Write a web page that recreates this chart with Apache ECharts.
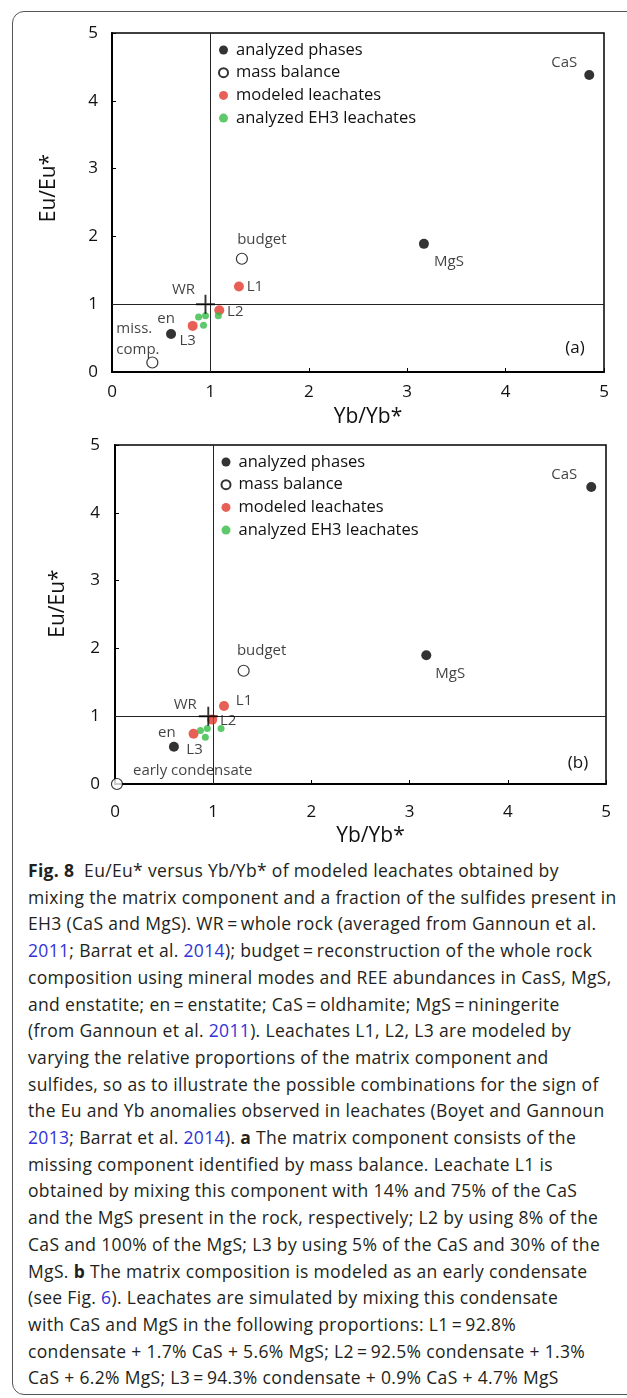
<!DOCTYPE html>
<html>
<head>
<meta charset="utf-8">
<script src="https://cdn.jsdelivr.net/npm/echarts@6/dist/echarts.min.js"></script>
<style>
  html, body { margin: 0; padding: 0; background: #fff; }
  body { width: 627px; height: 1398px; position: relative; overflow: hidden; font-family: "Open Sans", sans-serif; }
  #frame { position: absolute; left: 12px; top: 11px; width: 660px; height: 1384px; border: 1px solid #555; border-radius: 12px; box-sizing: border-box; }
  #chart { position: absolute; left: 0; top: 0; width: 627px; height: 850px; }
  #caption { position: absolute; left: 28px; top: 857px; font-size: 17.5px; letter-spacing: 0.33px; line-height: 26.7px; color: #231f20; white-space: nowrap; }
  #caption b { font-weight: 700; }
  #caption .lk { color: #3333d6; }
</style>
</head>
<body>
<div id="frame"></div>
<div id="chart"></div>
<div id="caption">
<div><b>Fig. 8</b>&nbsp; Eu/Eu* versus Yb/Yb* of modeled leachates obtained by</div>
<div>mixing the matrix component and a fraction of the sulfides present in</div>
<div>EH3 (CaS and MgS). WR&thinsp;=&thinsp;whole rock (averaged from Gannoun et al.</div>
<div><span class="lk">2011</span>; Barrat et al. <span class="lk">2014</span>); budget&thinsp;=&thinsp;reconstruction of the whole rock</div>
<div>composition using mineral modes and REE abundances in CasS, MgS,</div>
<div>and enstatite; en&thinsp;=&thinsp;enstatite; CaS&thinsp;=&thinsp;oldhamite; MgS&thinsp;=&thinsp;niningerite</div>
<div>(from Gannoun et al. <span class="lk">2011</span>). Leachates L1, L2, L3 are modeled by</div>
<div>varying the relative proportions of the matrix component and</div>
<div>sulfides, so as to illustrate the possible combinations for the sign of</div>
<div>the Eu and Yb anomalies observed in leachates (Boyet and Gannoun</div>
<div><span class="lk">2013</span>; Barrat et al. <span class="lk">2014</span>). <b>a</b> The matrix component consists of the</div>
<div>missing component identified by mass balance. Leachate L1 is</div>
<div>obtained by mixing this component with 14% and 75% of the CaS</div>
<div>and the MgS present in the rock, respectively; L2 by using 8% of the</div>
<div>CaS and 100% of the MgS; L3 by using 5% of the CaS and 30% of the</div>
<div>MgS. <b>b</b> The matrix composition is modeled as an early condensate</div>
<div>(see Fig. <span class="lk">6</span>). Leachates are simulated by mixing this condensate</div>
<div>with CaS and MgS in the following proportions: L1&thinsp;=&thinsp;92.8%</div>
<div>condensate + 1.7% CaS + 5.6% MgS; L2&thinsp;=&thinsp;92.5% condensate + 1.3%</div>
<div>CaS + 6.2% MgS; L3&thinsp;=&thinsp;94.3% condensate + 0.9% CaS + 4.7% MgS</div>
</div>
<script>
// ---------- data ----------
const axisTicks = [0, 1, 2, 3, 4, 5];
const refX = 1, refY = 1;

const phaseNames = ['CaS', 'MgS', 'en'];
const phasesA_x = [4.85, 3.17, 0.60];
const phasesA_y = [4.38, 1.89, 0.56];
const phasesB_x = [4.85, 3.17, 0.60];
const phasesB_y = [4.38, 1.90, 0.55];

const massNamesA = ['budget', 'miss.\ncomp.'];
const massA_x = [1.32, 0.41];
const massA_y = [1.67, 0.14];
const massNamesB = ['budget', 'early condensate'];
const massB_x = [1.31, 0.02];
const massB_y = [1.67, 0.0];

const leachNames = ['L1', 'L2', 'L3'];
const leachA_x = [1.29, 1.09, 0.82];
const leachA_y = [1.26, 0.91, 0.68];
const leachB_x = [1.11, 0.99, 0.80];
const leachB_y = [1.15, 0.95, 0.74];

const eh3A_x = [0.88, 0.95, 0.93, 1.08];
const eh3A_y = [0.81, 0.83, 0.69, 0.83];
const eh3B_x = [0.87, 0.94, 0.92, 1.08];
const eh3B_y = [0.79, 0.82, 0.69, 0.82];

const wrName = 'WR';
const wrA = [0.95, 1.0];
const wrB = [0.95, 1.0];

const legendNames = ['analyzed phases', 'mass balance', 'modeled leachates', 'analyzed EH3 leachates'];

// ---------- label placement (styling, kept separate from data) ----------
const labelOffA = {
  'CaS': [-25, -12], 'MgS': [25, 18], 'en': [-5, -15],
  'budget': [20, -19], 'miss.\ncomp.': [-36, -23],
  'L1': [16, 0], 'L2': [16, 1], 'L3': [-5, 15], 'WR': [-22, -14]
};
const labelOffB = {
  'CaS': [-27, -12], 'MgS': [24, 19], 'en': [-7, -14],
  'budget': [18, -20], 'early condensate': [16, -13],
  'L1': [20, -5], 'L2': [16, 1], 'L3': [1, 16], 'WR': [-23, -11]
};
const leftAligned = { 'miss.\ncomp.': true, 'early condensate': true };

const FONT = '"Open Sans", sans-serif';
const TXT = '#111';

function pts(xs, ys, names, offs) {
  return xs.map((x, i) => {
    const o = { value: [x, ys[i]] };
    if (names) {
      const n = names[i];
      o.name = n;
      o.label = {
        show: true, formatter: n, position: 'inside',
        offset: offs[n], align: leftAligned[n] ? 'left' : 'center',
        verticalAlign: 'middle', lineHeight: 21,
        fontSize: 15, fontFamily: FONT, color: TXT
      };
    }
    return o;
  });
}

const crossPath = 'path://M0,4.5H10V5.5H0Z M4.5,0H5.5V10H4.5Z';

function panelSeries(idx, P) {
  const offs = idx === 0 ? labelOffA : labelOffB;
  return [
    {
      name: 'refs', type: 'scatter', xAxisIndex: idx, yAxisIndex: idx, data: [],
      markLine: {
        silent: true, symbol: 'none', label: { show: false }, animation: false,
        lineStyle: { color: '#222', width: 1, type: 'solid' },
        data: [{ xAxis: refX }, { yAxis: refY }]
      }
    },
    {
      name: legendNames[0], type: 'scatter', xAxisIndex: idx, yAxisIndex: idx,
      symbol: 'circle', symbolSize: 10, itemStyle: { color: '#000' }, z: 5,
      data: pts(P.ph_x, P.ph_y, phaseNames, offs)
    },
    {
      name: legendNames[1], type: 'scatter', xAxisIndex: idx, yAxisIndex: idx,
      symbol: 'circle', symbolSize: 11, z: 5,
      itemStyle: { color: '#fff', borderColor: '#000', borderWidth: 1.2 },
      data: pts(P.m_x, P.m_y, P.m_names, offs)
    },
    {
      name: legendNames[2], type: 'scatter', xAxisIndex: idx, yAxisIndex: idx,
      symbol: 'circle', symbolSize: 10, itemStyle: { color: '#e2382a' }, z: 6,
      data: pts(P.l_x, P.l_y, leachNames, offs)
    },
    {
      name: legendNames[3], type: 'scatter', xAxisIndex: idx, yAxisIndex: idx,
      symbol: 'circle', symbolSize: 7, itemStyle: { color: '#35bb45' }, z: 6,
      data: pts(P.e_x, P.e_y, null, offs)
    },
    {
      name: wrName, type: 'scatter', xAxisIndex: idx, yAxisIndex: idx,
      symbol: crossPath, symbolSize: 19, itemStyle: { color: '#000' }, z: 7,
      data: pts([P.wr[0]], [P.wr[1]], [wrName], offs)
    }
  ];
}

const grids = [
  { left: 112, top: 33, width: 492, height: 339 },
  { left: 115, top: 445, width: 491, height: 339 }
];

function xAx(idx, margin, gap) {
  return {
    type: 'value', gridIndex: idx, min: 0, max: 5, interval: 1,
    name: 'Yb/Yb*', nameLocation: 'middle', nameGap: gap,
    nameTextStyle: { fontSize: 21, fontFamily: FONT, color: TXT, padding: [0, 0, 0, 20] },
    axisLine: { show: true, onZero: false, lineStyle: { color: '#000', width: 2 } },
    axisTick: { show: true, inside: true, length: 4, lineStyle: { color: '#000', width: 1 } },
    axisLabel: { fontSize: 17, fontFamily: FONT, color: TXT, margin: margin,
      formatter: v => (axisTicks.indexOf(v) >= 0 ? String(v) : '') },
    splitLine: { show: false }
  };
}
function yAx(idx, margin, gap, pad) {
  return {
    type: 'value', gridIndex: idx, min: 0, max: 5, interval: 1,
    name: 'Eu/Eu*', nameLocation: 'middle', nameGap: gap, nameRotate: 90,
    nameTextStyle: { fontSize: 21, fontFamily: FONT, color: TXT, padding: [0, 0, 0, pad] },
    axisLine: { show: true, onZero: false, lineStyle: { color: '#000', width: 2 } },
    axisTick: { show: true, inside: true, length: 4, lineStyle: { color: '#000', width: 1 } },
    axisLabel: { fontSize: 17, fontFamily: FONT, color: TXT, margin: margin,
      formatter: v => (axisTicks.indexOf(v) >= 0 ? String(v) : '') },
    splitLine: { show: false }
  };
}

function legendAt(left, top) {
  return {
    orient: 'vertical', left: left, top: top, itemWidth: 15, itemHeight: 9, itemGap: 4.7,
    selectedMode: false, padding: 0,
    textStyle: { fontSize: 16.5, fontFamily: FONT, color: TXT, lineHeight: 18 },
    data: legendNames.map(n => ({ name: n, icon: 'circle' }))
  };
}

const chart = echarts.init(document.getElementById('chart'), null, { renderer: 'canvas' });
chart.setOption({
  animation: false,
  backgroundColor: 'transparent',
  grid: grids.map(g => Object.assign({ show: true, borderColor: '#000', borderWidth: 1.5, backgroundColor: 'transparent' }, g)),
  xAxis: [xAx(0, 12, 35), xAx(1, 20, 42)],
  yAxis: [yAx(0, 14, 52, 29), yAx(1, 15, 46, 22)],
  legend: [legendAt(218, 41), legendAt(220.5, 453)],
  graphic: [
    { type: 'text', x: 575, y: 348, style: { text: '(a)', font: '17px ' + FONT, fill: TXT, align: 'center', verticalAlign: 'middle' } },
    { type: 'text', x: 578, y: 763, style: { text: '(b)', font: '17px ' + FONT, fill: TXT, align: 'center', verticalAlign: 'middle' } }
  ],
  series: [].concat(
    panelSeries(0, { ph_x: phasesA_x, ph_y: phasesA_y, m_x: massA_x, m_y: massA_y, m_names: massNamesA,
      l_x: leachA_x, l_y: leachA_y, e_x: eh3A_x, e_y: eh3A_y, wr: wrA }),
    panelSeries(1, { ph_x: phasesB_x, ph_y: phasesB_y, m_x: massB_x, m_y: massB_y, m_names: massNamesB,
      l_x: leachB_x, l_y: leachB_y, e_x: eh3B_x, e_y: eh3B_y, wr: wrB })
  )
});
</script>
</body>
</html>
